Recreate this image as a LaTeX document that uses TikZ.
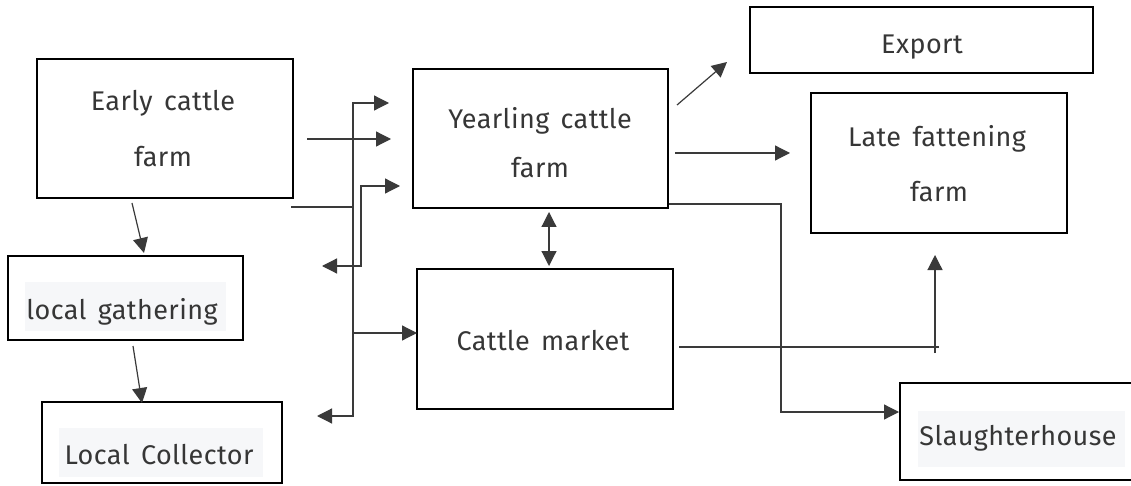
\documentclass[tikz,border=0pt]{standalone}
\usepackage{fontspec}
\setmainfont[LetterSpace=1.5,WordSpace=1.5]{Fira Sans}
\usetikzlibrary{arrows.meta}
\definecolor{txt}{HTML}{363636}
\definecolor{ln}{HTML}{3A3A3A}
\definecolor{hl}{HTML}{F6F7F9}
\begin{document}
\begin{tikzpicture}[x=1pt,y=-1pt,
  box/.style={draw=black,line width=2.2pt,fill=white,inner sep=0pt},
  lbl/.style={text=txt,font=\fontsize{27}{30}\selectfont,inner sep=0pt,anchor=base},
  hlbox/.style={fill=hl,draw=none,inner sep=0pt},
  conn/.style={draw=ln,line width=1.2pt},
  arr/.style={conn,-{Triangle[length=15pt,width=15pt]}},
  dbl/.style={conn,{Triangle[length=15pt,width=15pt]}-{Triangle[length=15pt,width=15pt]}}]
\clip (0,0) rectangle (1131,486);
\fill[white] (0,0) rectangle (1131,486);
% boxes
\node[box,minimum width=256pt,minimum height=139pt] (early) at (165,128.5) {};
\node[box,minimum width=235pt,minimum height=84pt] (gather) at (125.5,298) {};
\node[box,minimum width=240pt,minimum height=81pt] (collector) at (162,442.5) {};
\node[box,minimum width=255pt,minimum height=139pt] (yearling) at (540.5,138.5) {};
\node[box,minimum width=256pt,minimum height=140pt] (market) at (545,339) {};
\node[box,minimum width=343pt,minimum height=66pt] (export) at (921.5,40) {};
\node[box,minimum width=256pt,minimum height=140pt] (late) at (939,163) {};
\node[box,minimum width=236pt,minimum height=97pt] (slaughter) at (1018,431.5) {};
% highlight backgrounds
\node[hlbox,minimum width=201pt,minimum height=49pt] (gatherBg) at (125.5,306.5) {};
\node[hlbox,minimum width=204pt,minimum height=49pt] (collectorBg) at (161,452.5) {};
\node[hlbox,minimum width=207pt,minimum height=56pt] (slaughterBg) at (1021.5,439) {};
% labels
\node[lbl] (earlyT1) at (163,111) {Early cattle};
\node[lbl] (earlyT2) at (163,167) {farm};
\node[lbl] (gatherT) at (122,319) {local gathering};
\node[lbl] (collectorT) at (159,464) {Local Collector};
\node[lbl] (yearlingT1) at (540,129) {Yearling cattle};
\node[lbl] (yearlingT2) at (540,178) {farm};
\node[lbl] (marketT) at (543,350) {Cattle market};
\node[lbl] (exportT) at (922,54) {Export};
\node[lbl] (lateT1) at (937,147) {Late fattening};
\node[lbl] (lateT2) at (939,202) {farm};
\node[lbl] (slaughterT) at (1018,445) {Slaughterhouse};
% connector coordinates
\coordinate (e1) at (132,203);
\coordinate (g1) at (144,253);
\coordinate (g2) at (133,346);
\coordinate (c1) at (142,403);
\coordinate (h1) at (307,139);
\coordinate (h2) at (391,139);
\coordinate (tTip) at (389,103);
\coordinate (tTop) at (353,103);
\coordinate (tBot) at (353,416);
\coordinate (tLeft) at (317,416);
\coordinate (eOut) at (291,207);
\coordinate (tJoin) at (353,207);
\coordinate (tMid) at (353,333);
\coordinate (mIn) at (417,333);
\coordinate (sTip) at (400,186);
\coordinate (sTop) at (361,186);
\coordinate (sBot) at (361,266);
\coordinate (sLeft) at (322,266);
\coordinate (ym1) at (549,212);
\coordinate (ym2) at (549,266);
\coordinate (ye1) at (677,105);
\coordinate (ye2) at (727,62);
\coordinate (yl1) at (675,153);
\coordinate (yl2) at (790,153);
\coordinate (ys0) at (669,204);
\coordinate (ys1) at (781,204);
\coordinate (ys2) at (781,412);
\coordinate (ys3) at (899,412);
\coordinate (ml0) at (679,347);
\coordinate (ml1) at (939,347);
\coordinate (ml2) at (935,353);
\coordinate (ml3) at (935,255);
% connectors
\draw[arr] (e1) -- (g1);
\draw[arr] (g2) -- (c1);
\draw[arr] (h1) -- (h2);
\draw[dbl] (tTip) -- (tTop) -- (tBot) -- (tLeft);
\draw[conn] (eOut) -- (tJoin);
\draw[arr] (tMid) -- (mIn);
\draw[dbl] (sTip) -- (sTop) -- (sBot) -- (sLeft);
\draw[dbl] (ym1) -- (ym2);
\draw[arr] (ye1) -- (ye2);
\draw[arr] (yl1) -- (yl2);
\draw[arr] (ys0) -- (ys1) -- (ys2) -- (ys3);
\draw[conn] (ml0) -- (ml1);
\draw[arr] (ml2) -- (ml3);
\end{tikzpicture}
\end{document}
